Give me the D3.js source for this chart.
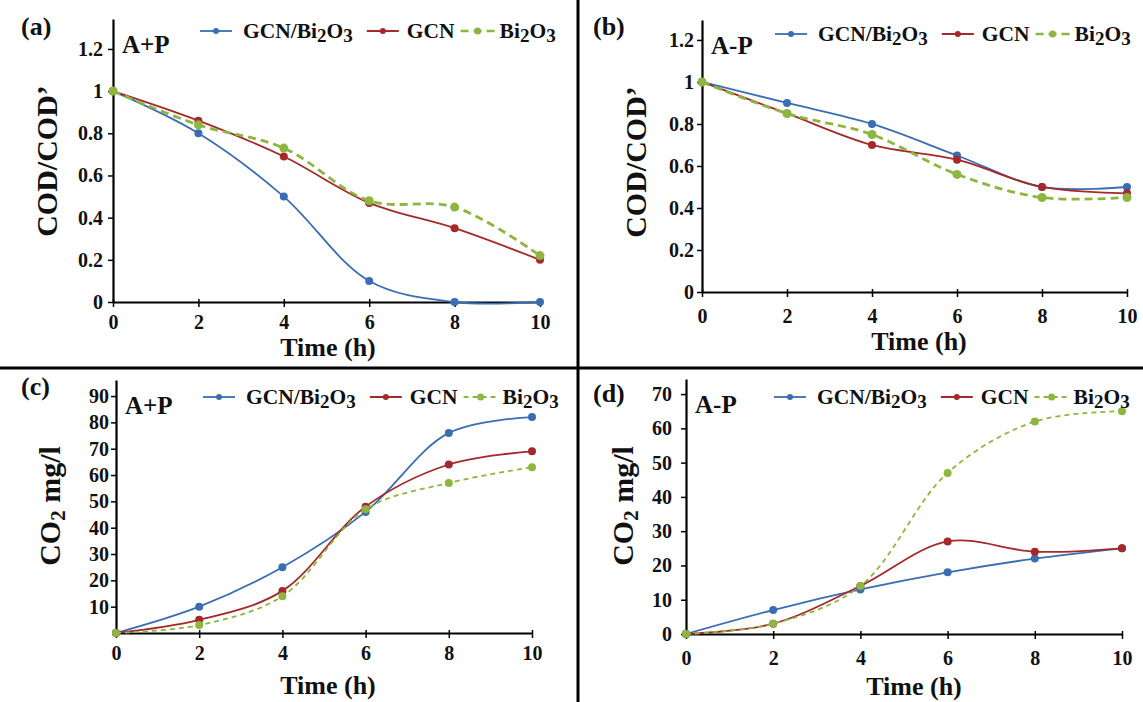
<!DOCTYPE html>
<html>
<head>
<meta charset="utf-8">
<script src="https://cdn.jsdelivr.net/npm/d3@7"></script>
<style>
  body { margin: 0; background: #fff; }
  svg { display: block; }
  text { font-family: "Liberation Serif", "Times New Roman", Tinos, "DejaVu Serif", serif; font-weight: bold; fill: #111; }
</style>
</head>
<body>
<div id="chart"></div>
<script>
// sampling times (h)
const hours = [0, 2, 4, 6, 8, 10];

// (a) COD/COD' with aeration + photocatalysis
const aComposite = [1, 0.8, 0.5, 0.1, 0, 0];
const aGCN = [1, 0.86, 0.69, 0.47, 0.35, 0.2];
const aBi2O3 = [1, 0.84, 0.73, 0.48, 0.45, 0.22];

// (b) COD/COD' without
const bComposite = [1, 0.9, 0.8, 0.65, 0.5, 0.5];
const bGCN = [1, 0.85, 0.7, 0.63, 0.5, 0.47];
const bBi2O3 = [1, 0.85, 0.75, 0.56, 0.45, 0.45];

// (c) CO2 mg/l, A+P
const cComposite = [0, 10, 25, 46, 76, 82];
const cGCN = [0, 5, 16, 48, 64, 69];
const cBi2O3 = [0, 3, 14, 47, 57, 63];

// (d) CO2 mg/l, A-P
const dComposite = [0, 7, 13, 18, 22, 25];
const dGCN = [0, 3, 14, 27, 24, 25];
const dBi2O3 = [0, 3, 14, 47, 62, 65];

// tick labels
const codTicks = [0, 0.2, 0.4, 0.6, 0.8, 1, 1.2];
const co2TicksC = [10, 20, 30, 40, 50, 60, 70, 80, 90];
const co2TicksD = [0, 10, 20, 30, 40, 50, 60, 70];

const blue = "#3a6db2", red = "#a3292b", green = "#8db540";

const svg = d3.select("#chart").append("svg")
    .attr("width", 1143)
    .attr("height", 702);

// panel dividers
svg.append("line").attr("x1", 578).attr("x2", 578).attr("y1", 0).attr("y2", 702)
    .attr("stroke", "#000").attr("stroke-width", 3);
svg.append("line").attr("x1", 0).attr("x2", 1143).attr("y1", 368).attr("y2", 368)
    .attr("stroke", "#000").attr("stroke-width", 3);

const panels = [
    { letter: "(a)", tag: "A+P", cod: true, ticks: codTicks, ymax: 1.342,
      series: [aComposite, aGCN, aBi2O3], thick: true,
      left: 113, right: 540, bottom: 302, top: 19, yPad: 5, xLab: 20,
      letterX: 21, letterY: 35, legX: 200, legY: 31, tagY: 53, ylabX: 57, ylabY: 161, timeX: 328, timeY: 356 },
    { letter: "(b)", tag: "A-P", cod: true, ticks: codTicks, ymax: 1.295,
      series: [bComposite, bGCN, bBi2O3], thick: true,
      left: 702, right: 1127, bottom: 292, top: 20, yPad: 3, xLab: 24,
      letterX: 593, letterY: 35, legX: 775, legY: 34, tagY: 54, ylabX: 646, ylabY: 162, timeX: 919, timeY: 350 },
    { letter: "(c)", tag: "A+P", cod: false, ticks: co2TicksC, ymax: 96.1,
      series: [cComposite, cGCN, cBi2O3], thick: false,
      left: 116, right: 532, bottom: 633, top: 380, yPad: 2, xLab: 20,
      letterX: 21, letterY: 395, legX: 203, legY: 397, tagY: 414, ylabX: 60, ylabY: 506, timeX: 328, timeY: 694 },
    { letter: "(d)", tag: "A-P", cod: false, ticks: co2TicksD, ymax: 74.4,
      series: [dComposite, dGCN, dBi2O3], thick: false,
      left: 686, right: 1122, bottom: 634, top: 379, yPad: 9, xLab: 24,
      letterX: 593, letterY: 402, legX: 774, legY: 397, tagY: 413, ylabX: 633, ylabY: 506, timeX: 914, timeY: 695 }
];

// add "Bi2O3"-like text with lowered digits
function chem(sel, parts, subSize) {
    parts.forEach(p => {
        if (p.sub) {
            sel.append("tspan").attr("font-size", subSize).attr("dy", 4).text(p.t);
        } else {
            sel.append("tspan").attr("dy", p.after ? -4 : 0).text(p.t);
        }
    });
    return sel;
}

function drawPanel(p) {
    const x = d3.scaleLinear().domain([0, 10]).range([p.left, p.right]);
    const y = d3.scaleLinear().domain([0, p.ymax]).range([p.bottom, p.top]);
    const g = svg.append("g");

    const yAxis = d3.axisLeft(y)
        .tickValues(p.ticks)
        .tickSize(5)
        .tickSizeOuter(0)
        .tickPadding(p.yPad)
        .tickFormat(d3.format("~g"));

    const ya = g.append("g")
        .attr("transform", `translate(${p.left},0)`)
        .call(yAxis);

    const xAxis = d3.axisBottom(x)
        .tickValues(hours)
        .tickSize(5)
        .tickSizeOuter(0);

    const xa = g.append("g")
        .attr("transform", `translate(0,${p.bottom})`)
        .call(xAxis);
    xa.selectAll(".tick line").attr("y1", -3);
    xa.selectAll(".tick text").attr("y", p.xLab).attr("dy", "0.35em");

    [ya, xa].forEach(a => {
        a.attr("font-family", null).attr("font-size", null);
        a.select(".domain").attr("stroke", "#000").attr("stroke-width", 2.2);
        a.selectAll(".tick line").attr("stroke", "#000").attr("stroke-width", 1.5);
        a.selectAll(".tick text")
            .attr("font-size", 20)
            .attr("fill", "#111");
    });

    const line = d3.line()
        .x((d, i) => x(hours[i]))
        .y(d => y(d))
        .curve(d3.curveCatmullRom.alpha(0.5));

    const styles = [
        { color: blue, width: 1.8, dash: null, r: 4 },
        { color: red, width: 1.8, dash: null, r: 4 },
        { color: green, width: p.thick ? 2.8 : 1.8, dash: p.thick ? "8,5" : "5,4", r: p.thick ? 4.5 : 4 }
    ];

    p.series.forEach((vals, k) => {
        const s = styles[k];
        g.append("path")
            .datum(vals)
            .attr("d", line)
            .attr("fill", "none")
            .attr("stroke", s.color)
            .attr("stroke-width", s.width)
            .attr("stroke-dasharray", s.dash);
        g.selectAll(null)
            .data(vals)
            .join("circle")
            .attr("cx", (d, i) => x(hours[i]))
            .attr("cy", d => y(d))
            .attr("r", s.r)
            .attr("fill", s.color);
    });

    // panel letter and condition tag
    g.append("text").attr("x", p.letterX).attr("y", p.letterY)
        .attr("font-size", 26).text(p.letter);
    g.append("text").attr("x", p.left + 9).attr("y", p.tagY)
        .attr("font-size", 25).text(p.tag);

    // axis titles
    g.append("text")
        .attr("x", p.timeX).attr("y", p.timeY)
        .attr("text-anchor", "middle")
        .attr("font-size", 26)
        .text("Time (h)");

    const yl = g.append("text")
        .attr("transform", `translate(${p.ylabX},${p.ylabY}) rotate(-90)`)
        .attr("text-anchor", "middle")
        .attr("font-size", 30);
    if (p.cod) {
        yl.text("COD/COD\u2019");
    } else {
        yl.append("tspan").text("CO");
        yl.append("tspan").attr("font-size", 21).attr("dy", 5).text("2");
        yl.append("tspan").attr("dy", -5).text(" mg/l");
    }

    // legend
    const leg = g.append("g").attr("transform", `translate(${p.legX},${p.legY})`);
    const names = [
        [{ t: "GCN/Bi" }, { t: "2", sub: true }, { t: "O", after: true }, { t: "3", sub: true }],
        [{ t: "GCN" }],
        [{ t: "Bi" }, { t: "2", sub: true }, { t: "O", after: true }, { t: "3", sub: true }]
    ];
    let cx = 0;
    names.forEach((parts, k) => {
        const s = styles[k];
        const len = k === 2 ? 34 : 32;
        leg.append("line")
            .attr("x1", cx).attr("x2", cx + len)
            .attr("y1", 0).attr("y2", 0)
            .attr("stroke", s.color)
            .attr("stroke-width", k === 2 && p.thick ? 2.6 : 1.8)
            .attr("stroke-dasharray", s.dash);
        leg.append("circle").attr("cx", cx + len / 2).attr("cy", 0)
            .attr("r", k === 2 ? 3.5 : 3).attr("fill", s.color);
        cx += len + (k === 0 ? 11 : k === 1 ? 8 : 5);
        const t = leg.append("text")
            .attr("x", cx).attr("y", 7)
            .attr("font-size", 21.5);
        chem(t, parts, 19);
        cx += t.node().getComputedTextLength() + (k === 0 ? 14 : 6);
    });
}

panels.forEach(drawPanel);
</script>
</body>
</html>
